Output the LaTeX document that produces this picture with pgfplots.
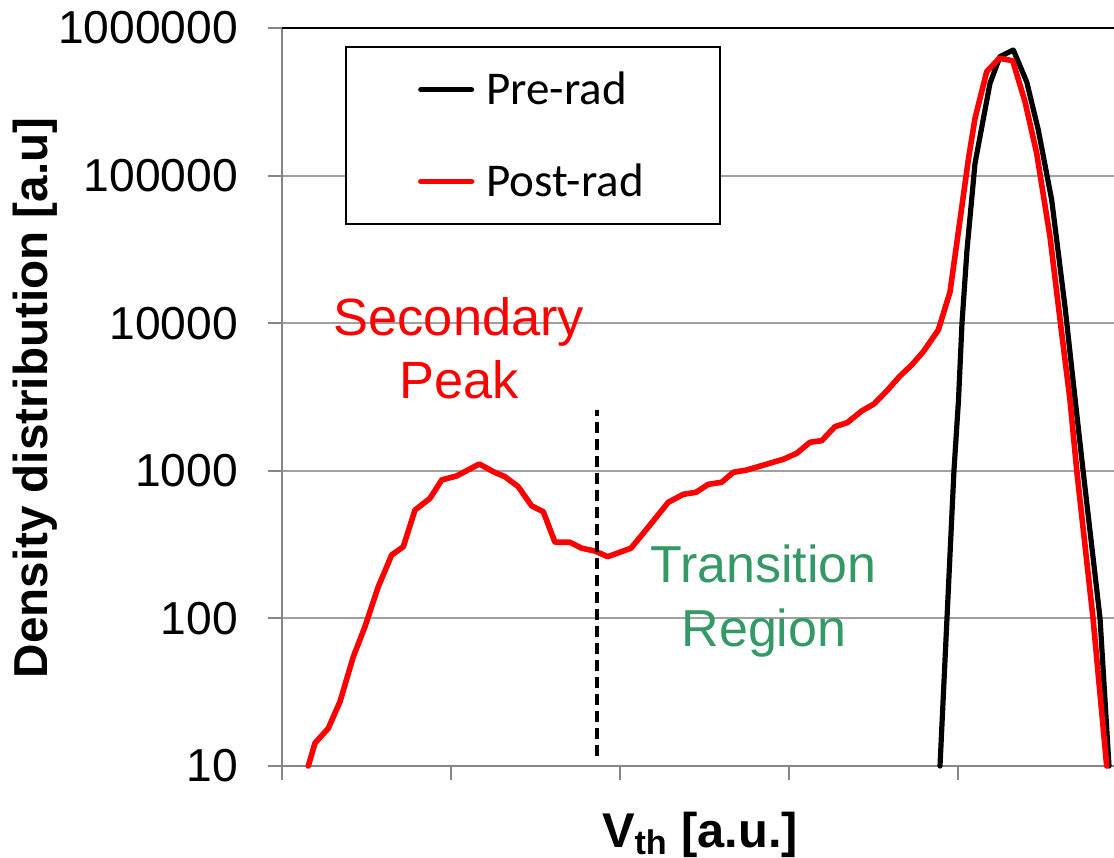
\documentclass[border=0pt]{standalone}
\usepackage{fontspec}
\setmainfont{Liberation Sans}
\newfontfamily\carlito{Carlito}
\usepackage{pgfplots}
\pgfplotsset{compat=1.18}
\definecolor{gridgray}{RGB}{160,160,160}
\definecolor{axisgray}{RGB}{134,134,134}
\definecolor{annotgreen}{RGB}{52,153,102}
\definecolor{plotred}{RGB}{255,0,0}
\begin{document}
\begin{tikzpicture}
\useasboundingbox (-141pt,-45.5pt) rectangle (416pt,383pt);
\begin{axis}[
  at={(0,0)}, anchor=south west,
  width=416pt, height=369pt, scale only axis,
  xmin=282, xmax=1114, ymin=10, ymax=1000000, ymode=log,
  clip=false,
  axis x line*=bottom, axis y line*=left,
  axis line style={draw=axisgray, line width=1pt},
  xtick={282,451,620,789,958}, xticklabels={},
  ytick={10,100,1000,10000,100000,1000000},
  yticklabels={10,100,1000,10000,100000,1000000},
  yminorticks=false, xminorticks=false,
  tick align=outside, major tick length=7pt,
  tick style={draw=axisgray, line width=1pt},
  ymajorgrids, grid style={draw=gridgray, line width=1pt},
  yticklabel style={font=\fontsize{23.1}{27}\selectfont, xshift=-11.5pt},
  xlabel={V\textsubscript{th} [a.u.]},
  xlabel style={at={(axis description cs:0.3762,-0.110)}, anchor=base west, font=\bfseries\fontsize{24.4}{28}\selectfont},
  ylabel={Density distribution [a.u]},
  ylabel style={at={(axis description cs:-0.2969,0.4986)}, anchor=center, font=\bfseries\fontsize{23.8}{28}\selectfont},
  legend style={at={(axis description cs:0.0757,0.9756)}, anchor=north west, draw=black, line width=1pt, fill=white,
    font=\carlito\fontsize{23.5}{27}\selectfont, inner xsep=36pt, inner ysep=10.5pt, row sep=24pt},
  legend cell align=left,
  legend image code/.code={\draw[#1] (1.3pt,0pt) -- (26.7pt,0pt);},
]
\addplot[black, line width=2.6pt, line join=round, line cap=round] coordinates {
(940,10) (954,1012) (958.5,3020) (962,10030) (967,31330) (975,121000)
(990,422000) (1000,640000) (1013.3,710000) (1026.7,432000) (1038.3,204000)
(1051.7,68400) (1065,12950) (1073,4120) (1083,1012) (1100,100.7) (1109,10)
};
\addlegendentry{\hspace{4pt}Pre-rad}
\addplot[plotred, line width=2.8pt, line join=round, line cap=round] coordinates {
(308.3,10) (315,14.3) (328.3,18.0) (340,27.3) (353.3,55) (365,88) (378.3,164)
(391.7,269) (403.3,306) (415,542) (430,651) (441.7,867) (456.7,923) (479.3,1112)
(493.3,986) (505,912) (518.3,780) (531.7,578) (543.3,528) (555,328) (570,328)
(581.7,299) (595,286) (607.7,262) (631,299) (646.7,403) (668.3,612) (683.3,693)
(696,715) (708.3,810) (721.7,836) (733.3,977) (746.7,1012) (783.3,1197)
(796.7,1314) (810,1561) (821.7,1600) (835,1991) (847.3,2120) (861.7,2543)
(874,2836) (886.7,3474) (900,4389) (911.7,5210) (923.3,6413) (938.3,8995)
(950,16260) (960,50000) (968.3,127600) (975,244000) (986.7,506000)
(999.3,624000) (1012.7,600000) (1025,317000) (1036.7,141600) (1050,38500)
(1061.7,8550) (1070,3020) (1076.7,1012) (1093,100.7) (1106.7,10)
};
\addlegendentry{\hspace{4pt}Post-rad}
\addplot[black, line width=2pt, dash pattern=on 5.5pt off 3pt, forget plot] coordinates {(597.3,11.6) (597.3,2583)};
\draw[black, line width=1pt] (rel axis cs:0,1) -- (rel axis cs:1,1);
\node[text=plotred, font=\fontsize{26.2}{30}\selectfont, anchor=base] at (rel axis cs:0.2127,0.5840) {Secondary};
\node[text=plotred, font=\fontsize{26.2}{30}\selectfont, anchor=base] at (rel axis cs:0.2127,0.4986) {Peak};
\node[text=annotgreen, font=\fontsize{26}{30}\selectfont, anchor=base] at (rel axis cs:0.5787,0.2480) {Transition};
\node[text=annotgreen, font=\fontsize{26}{30}\selectfont, anchor=base] at (rel axis cs:0.5793,0.1617) {Region};
\end{axis}
\end{tikzpicture}
\end{document}
